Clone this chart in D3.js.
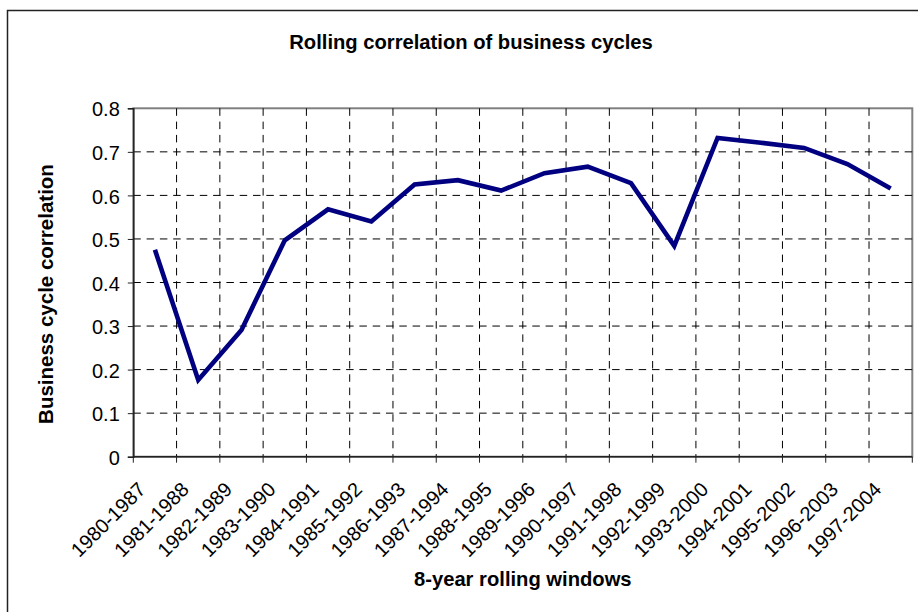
<!DOCTYPE html>
<html>
<head>
<meta charset="utf-8">
<script src="https://cdn.jsdelivr.net/npm/d3@7"></script>
<style>
  html, body { margin: 0; padding: 0; background: #fff; }
  svg { display: block; font-family: "Liberation Sans", Arial, sans-serif; }
</style>
</head>
<body>
<svg id="chart" width="918" height="612"></svg>
<script>
const categories = ["1980-1987","1981-1988","1982-1989","1983-1990","1984-1991","1985-1992",
  "1986-1993","1987-1994","1988-1995","1989-1996","1990-1997","1991-1998","1992-1999",
  "1993-2000","1994-2001","1995-2002","1996-2003","1997-2004"];
const correlation = [0.475, 0.176, 0.291, 0.497, 0.568, 0.540, 0.625, 0.635, 0.611, 0.651,
  0.666, 0.628, 0.484, 0.732, 0.721, 0.709, 0.672, 0.616];
const yTicks = [0, 0.1, 0.2, 0.3, 0.4, 0.5, 0.6, 0.7, 0.8];
const titleText = "Rolling correlation of business cycles";
const xTitle = "8-year rolling windows";
const yTitle = "Business cycle correlation";

const svg = d3.select("#chart");
const L = 133.3, R = 912.3, T = 108.3, B = 456.7;

const x = d3.scaleBand().domain(categories).range([L, R]).padding(0);
const y = d3.scaleLinear().domain([0, 0.8]).range([B, T]);

// outer frame
svg.append("rect").attr("x", 7.5).attr("y", 10.5).attr("width", 930).attr("height", 620)
  .attr("fill", "none").attr("stroke", "#222").attr("stroke-width", 1.5);

// plot area border
svg.append("rect").attr("x", L).attr("y", T).attr("width", R - L).attr("height", B - T)
  .attr("fill", "none").attr("stroke", "#808080").attr("stroke-width", 2);

const dash = "7.5,5.8";
// horizontal gridlines
svg.append("g").selectAll("line").data(yTicks.filter(d => d > 0 && d < 0.8)).join("line")
  .attr("x1", L).attr("x2", R).attr("y1", d => y(d)).attr("y2", d => y(d))
  .attr("stroke", "#000").attr("stroke-width", 1).attr("stroke-dasharray", dash);

// vertical gridlines at category boundaries
const bounds = categories.slice(1).map(c => x(c));
svg.append("g").selectAll("line").data(bounds).join("line")
  .attr("x1", d => d).attr("x2", d => d).attr("y1", T).attr("y2", B)
  .attr("stroke", "#000").attr("stroke-width", 1).attr("stroke-dasharray", dash);

// axes
const yAxis = d3.axisLeft(y).tickValues(yTicks).tickSize(5.5).tickPadding(8)
  .tickFormat(d => d === 0 ? "0" : d3.format(".1f")(d));
const gy = svg.append("g").attr("transform", `translate(${L},0)`).call(yAxis);
gy.select(".domain").attr("stroke", "#222").attr("stroke-width", 1.5);
gy.selectAll(".tick line").attr("stroke", "#222").attr("stroke-width", 1);
gy.selectAll(".tick text").attr("font-size", 20).attr("fill", "#000")
  .attr("font-family", "Liberation Sans, Arial, sans-serif").attr("dy", "0.38em");

// x axis line and boundary ticks
svg.append("line").attr("x1", L).attr("x2", R).attr("y1", B).attr("y2", B)
  .attr("stroke", "#222").attr("stroke-width", 1.5);
const allBounds = categories.map(c => x(c)).concat([x(categories[categories.length - 1]) + x.bandwidth()]);
svg.append("g").selectAll("line").data(allBounds).join("line")
  .attr("x1", d => d).attr("x2", d => d).attr("y1", B).attr("y2", B + 6)
  .attr("stroke", "#222").attr("stroke-width", 1);

// x labels rotated
svg.append("g").selectAll("text").data(categories).join("text")
  .attr("transform", d => `translate(${x(d) + x.bandwidth() / 2 - 8},${B + 34}) rotate(-45)`)
  .attr("text-anchor", "end").attr("font-size", 20).attr("fill", "#000")
  .text(d => d);

// line
const line = d3.line().x((d, i) => x(categories[i]) + x.bandwidth() / 2).y(d => y(d));
svg.append("path").datum(correlation).attr("d", line)
  .attr("fill", "none").attr("stroke", "#000080").attr("stroke-width", 4.6)
  .attr("stroke-linejoin", "miter");

// titles
svg.append("text").attr("x", 471).attr("y", 49).attr("text-anchor", "middle")
  .attr("font-size", 20.2).attr("font-weight", "bold").text(titleText);
svg.append("text").attr("x", (L + R) / 2).attr("y", 586).attr("text-anchor", "middle")
  .attr("font-size", 20.2).attr("font-weight", "bold").text(xTitle);
svg.append("text").attr("transform", `translate(53,294) rotate(-90)`).attr("text-anchor", "middle")
  .attr("font-size", 20.5).attr("font-weight", "bold").text(yTitle);
</script>
</body>
</html>
